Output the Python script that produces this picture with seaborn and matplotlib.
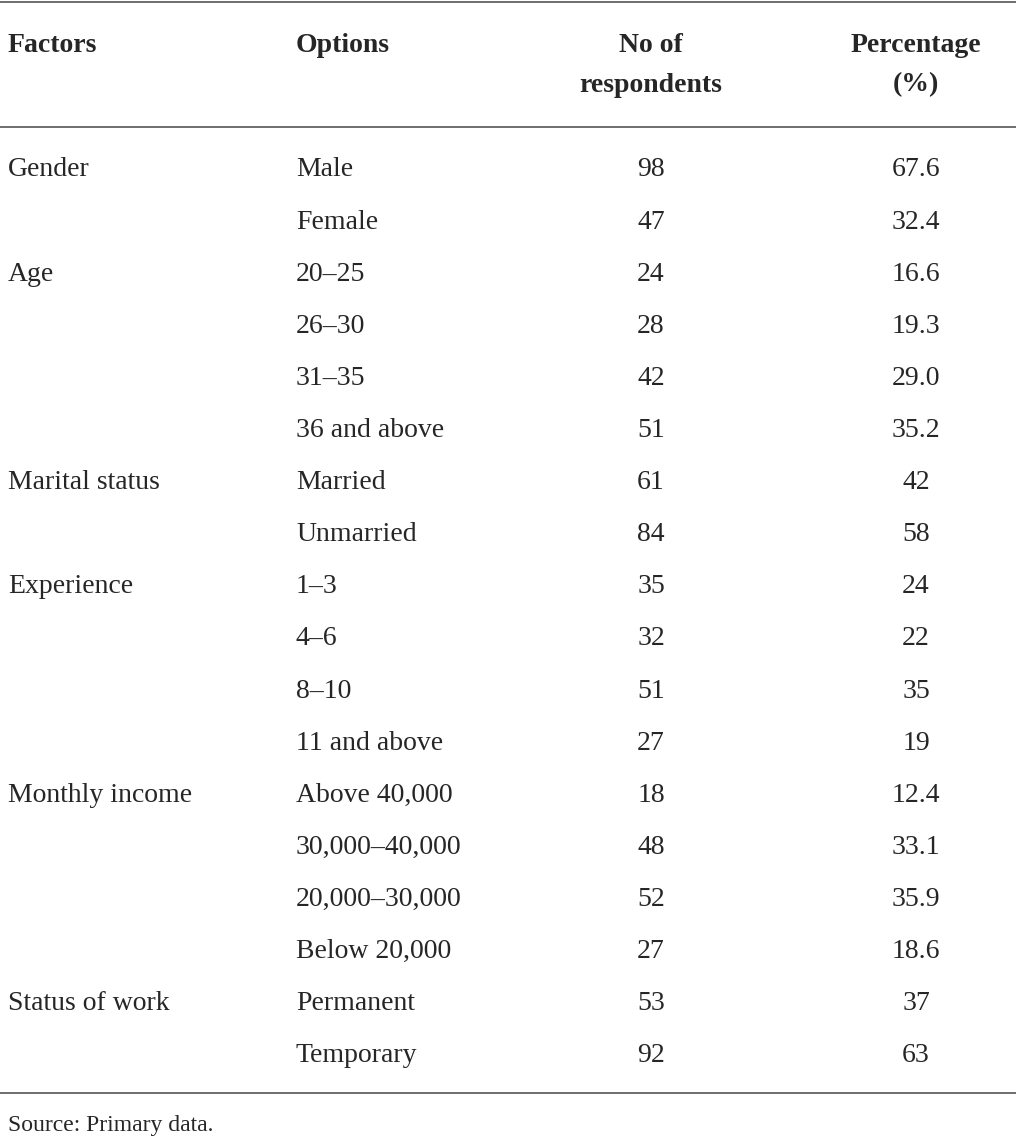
import matplotlib.pyplot as plt
import seaborn as sns

factors = ["Gender", "", "Age", "", "", "", "Marital status", "", "Experience", "", "", "",
           "Monthly income", "", "", "", "Status of work", ""]
options = ["Male", "Female", "20–25", "26–30", "31–35", "36 and above", "Married", "Unmarried",
           "1–3", "4–6", "8–10", "11 and above", "Above 40,000", "30,000–40,000",
           "20,000–30,000", "Below 20,000", "Permanent", "Temporary"]
respondents = [98, 47, 24, 28, 42, 51, 61, 84, 35, 32, 51, 27, 18, 48, 52, 27, 53, 92]
percentage = ["67.6", "32.4", "16.6", "19.3", "29.0", "35.2", "42", "58", "24", "22", "35",
              "19", "12.4", "33.1", "35.9", "18.6", "37", "63"]

sns.set_theme(style="white")
plt.rcParams['font.family'] = ['Liberation Serif', 'DejaVu Serif']

fig = plt.figure(figsize=(10.16, 11.44), dpi=100)
ax = fig.add_axes([0, 0, 1, 1])
ax.set_xlim(0, 1016)
ax.set_ylim(1144, 0)
ax.axis("off")

fs = 20
line_kw = dict(color="#555555", lw=1.2)
ax.plot([0, 1016], [2, 2], **line_kw)
ax.plot([0, 1016], [127, 127], **line_kw)
ax.plot([0, 1016], [1093, 1093], **line_kw)

hdr = dict(fontsize=fs, fontweight="bold", va="center")
ax.text(8, 45, "Factors", ha="left", **hdr)
ax.text(296, 45, "Options", ha="left", **hdr)
ax.text(651, 45, "No of", ha="center", **hdr)
ax.text(651, 85, "respondents", ha="center", **hdr)
ax.text(916, 45, "Percentage", ha="center", **hdr)
ax.text(916, 85, "(%)", ha="center", **hdr)

for i, (f, o, r, p) in enumerate(zip(factors, options, respondents, percentage)):
    y = 170 + i * 52.1
    ax.text(8, y, f, ha="left", va="center", fontsize=fs)
    ax.text(296, y, o, ha="left", va="center", fontsize=fs)
    ax.text(651, y, str(r), ha="center", va="center", fontsize=fs)
    ax.text(916, y, p, ha="center", va="center", fontsize=fs)

ax.text(8, 1125, "Source: Primary data.", ha="left", va="center", fontsize=17)

fig.savefig("out.png", dpi=100)
